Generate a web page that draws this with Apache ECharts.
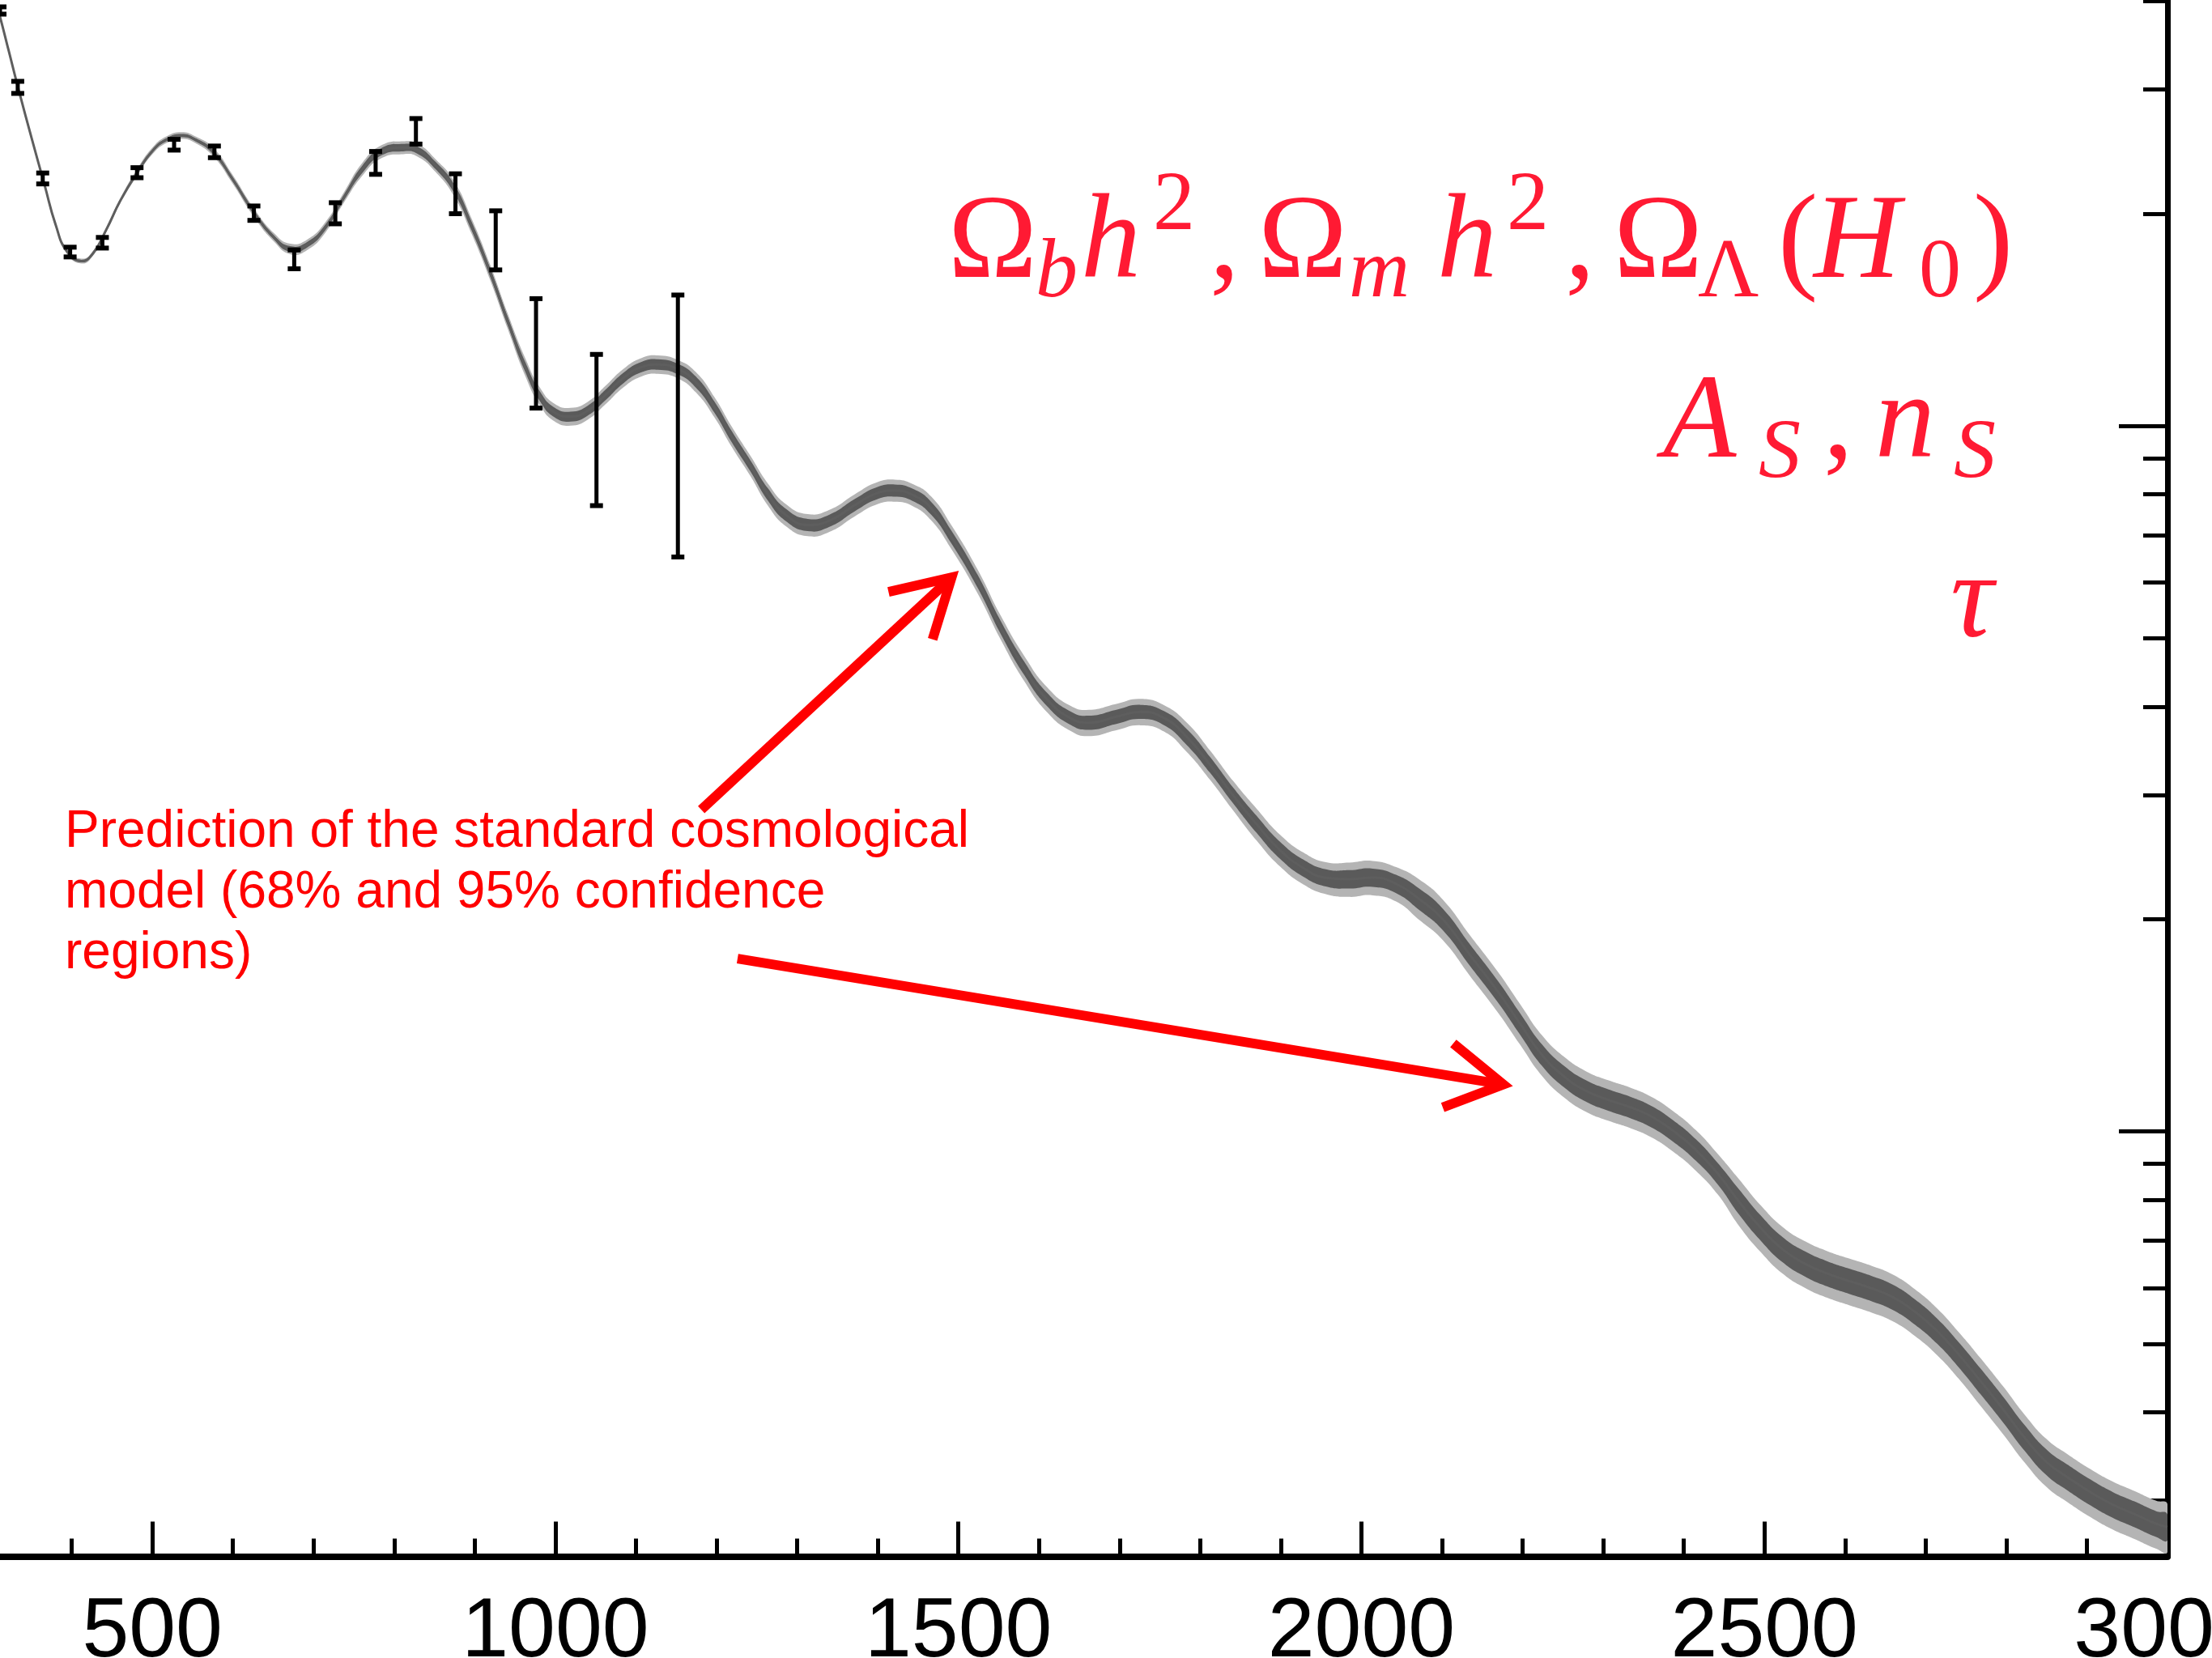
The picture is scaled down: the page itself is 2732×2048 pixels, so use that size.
<!DOCTYPE html>
<html><head><meta charset="utf-8">
<style>html,body{margin:0;padding:0;background:#fff}#c{width:2732px;height:2048px}</style>
<script src="https://cdn.jsdelivr.net/npm/echarts@6/dist/echarts.min.js"></script>
</head><body><div id="c"></div>
<script>
// ---- model curve (multipole l, D_l in uK^2) ----
const ell = [300,311,322,334,351,366,380,394,412,426,
  443,460,481,501,518,536,553,576,599,626,
  651,671,692,715,738,761,784,811,829,851,
  874,896,919,941,963,981,999,1019,1040,1062,
  1085,1107,1127,1152,1174,1197,1219,1242,1264,1286,
  1313,1340,1372,1399,1421,1443,1466,1491,1524,1553,
  1582,1610,1639,1662,1697,1726,1755,1783,1812,1841,
  1870,1899,1928,1956,1985,2014,2043,2072,2101,2135,
  2169,2197,2224,2251,2278,2306,2333,2360,2387,2415,
  2442,2469,2496,2523,2551,2578,2605,2632,2660,2687,
  2714,2741,2768,2796,2823,2850,2877,2905,2932,2959,
  2986,3000];
const dl = [4220,3803,3395,2999,2539,2202,1929,1768,1713,1754,
  1899,2083,2285,2460,2546,2580,2546,2441,2243,2007,
  1850,1782,1806,1914,2111,2315,2447,2480,2460,2342,
  2173,1921,1652,1407,1210,1101,1045,1031,1051,1106,
  1171,1212,1222,1204,1155,1065,965,878,799,748,
  724,734,773,803,810,799,765,697,602,517,
  453,409.7,385.5,379.7,387.4,393.4,385.5,362.8,331.2,299.4,
  272.6,250.5,236.3,228.9,227.8,229.0,224.4,213.4,199.9,177.7,
  158.1,142.1,128.4,119.8,114.3,110.9,108.3,105.0,100.2,94.2,
  87.2,79.4,72.9,68.0,64.9,62.9,61.4,60.0,58.2,55.5,
  52.2,48.3,44.3,40.4,36.8,34.0,32.3,30.8,29.6,28.7,
  27.8,27.5];
// half-widths of the confidence regions, percent of D_l
const err68 = [0.4,0.4,0.4,0.4,0.4,0.4,0.4,0.4,0.4,0.4,
  0.4,0.4,0.5,0.5,0.5,0.5,0.5,0.7,0.7,0.7,
  0.7,0.9,0.9,0.9,0.9,1.2,1.2,1.2,1.2,1.2,
  1.4,1.4,1.4,1.4,1.6,1.6,1.6,1.6,1.6,1.7,
  1.7,1.7,1.7,1.7,1.8,1.8,1.8,1.8,2.0,2.0,
  2.0,2.0,2.0,2.0,2.0,2.0,2.1,2.1,2.1,2.1,
  2.2,2.2,2.2,2.3,2.3,2.3,2.3,2.6,2.6,2.6,
  2.8,2.8,2.8,2.8,3.0,3.0,3.0,3.5,3.5,3.5,
  3.5,3.5,3.5,3.5,3.5,3.5,3.5,3.5,3.5,3.5,
  3.5,4.1,4.1,4.1,4.1,4.1,4.1,4.1,4.1,4.1,
  4.1,4.1,4.2,4.2,4.2,4.2,4.2,4.2,4.2,4.2,
  4.2,4.2];
const err95 = [0.8,0.8,0.8,0.8,0.8,0.8,0.8,0.8,0.8,0.8,
  0.8,0.8,1.1,1.1,1.1,1.1,1.1,1.4,1.4,1.4,
  1.4,1.7,1.7,1.7,1.7,2.1,2.1,2.1,2.1,2.1,
  2.5,2.5,2.5,2.5,2.9,2.9,2.9,2.9,2.9,3.0,
  3.0,3.0,3.0,3.0,3.3,3.3,3.3,3.3,3.6,3.6,
  3.6,3.6,3.6,3.6,3.6,3.6,3.9,3.9,3.9,3.9,
  4.1,4.1,4.1,4.3,4.3,4.3,4.3,4.8,4.8,4.8,
  5.2,5.2,5.2,5.2,5.6,5.6,5.6,6.6,6.6,6.6,
  6.6,6.6,6.6,6.6,6.6,6.6,6.6,6.6,6.6,6.6,
  6.6,7.6,7.6,7.6,7.6,7.6,7.6,7.6,7.6,7.6,
  7.6,7.6,7.8,7.8,7.8,7.8,7.8,7.8,7.8,7.8,
  7.8,7.8];

// ---- measured band powers with error bars ----
const dataEll  = [311,333,364,398,438,481,527,577,626,676,727,777,827,876,926,976,1051,1152];
const dataLow  = [3834,2960,2203,1736,1787,2248,2460,2400,1956,1670,1934,2273,2509,1999,1664,1060,771,652];
const dataHigh = [3926,3079,2283,1792,1850,2323,2548,2493,2050,1776,2072,2449,2727,2277,2018,1515,1263,1533];

// ---- annotation arrows (data coordinates) ----
const arrowFromL = [1181, 1226];
const arrowFromD = [285.8, 175.8];
const arrowToL   = [1499, 2186];
const arrowToD   = [621, 116.1];

// ---- ticks ----
const xLabelTicks = [500, 1000, 1500, 2000, 2500, 3000];
const xMajorTicks = [500, 1000, 1500, 2000, 2500];
const xMinorTicks = [400,600,700,800,900,1100,1200,1300,1400,1600,1700,1800,1900,
  2100,2200,2300,2400,2600,2700,2800,2900];
const yMajorTicks = [100, 1000];
const yMinorTicks = [30,40,50,60,70,80,90,200,300,400,500,600,700,800,900,2000,3000,4000];

const chart = echarts.init(document.getElementById('c'), null, {renderer: 'canvas', width: 2732, height: 2048});

function bandItem(params, api) {
  const u95 = [], l95 = [], u68 = [], l68 = [];
  for (let i = 0; i < ell.length; i++) {
    u95.push(api.coord([ell[i], dl[i] * (1 + err95[i] / 100)]));
    l95.push(api.coord([ell[i], dl[i] * (1 - err95[i] / 100)]));
    u68.push(api.coord([ell[i], dl[i] * (1 + err68[i] / 100)]));
    l68.push(api.coord([ell[i], dl[i] * (1 - err68[i] / 100)]));
  }
  const cs = params.coordSys;
  return {
    type: 'group',
    clipPath: {type: 'rect', shape: {x: cs.x, y: cs.y, width: cs.width, height: cs.height}},
    children: [
      {type: 'polygon', shape: {points: u95.concat(l95.reverse()), smooth: 0.5}, style: {fill: '#b4b4b4'}},
      {type: 'polygon', shape: {points: u68.concat(l68.reverse()), smooth: 0.5}, style: {fill: '#5a5a5a'}}
    ]
  };
}

function errItem(params, api) {
  const x = api.value(0);
  const pHi = api.coord([x, api.value(2)]);
  const pLo = api.coord([x, api.value(1)]);
  const hw = 8;
  const st = {stroke: '#000', lineWidth: 5};
  const cap = {stroke: '#000', lineWidth: 6};
  return {type: 'group', children: [
    {type: 'line', shape: {x1: pHi[0], y1: pHi[1], x2: pLo[0], y2: pLo[1]}, style: st},
    {type: 'line', shape: {x1: pHi[0] - hw, y1: pHi[1], x2: pHi[0] + hw, y2: pHi[1]}, style: cap},
    {type: 'line', shape: {x1: pLo[0] - hw, y1: pLo[1], x2: pLo[0] + hw, y2: pLo[1]}, style: cap}
  ]};
}

function arrowItem(params, api) {
  const p1 = api.coord([api.value(0), api.value(1)]);
  const p2 = api.coord([api.value(2), api.value(3)]);
  const dx = p2[0] - p1[0], dy = p2[1] - p1[1];
  const L = Math.hypot(dx, dy), ux = dx / L, uy = dy / L;
  const v = [p2[0] - ux * 10, p2[1] - uy * 10];
  const hl = 80, a = Math.PI / 6, c = Math.cos(a), s = Math.sin(a);
  const bx = -ux, by = -uy;
  const a1 = [v[0] + hl * (c * bx - s * by), v[1] + hl * (s * bx + c * by)];
  const a2 = [v[0] + hl * (c * bx + s * by), v[1] + hl * (-s * bx + c * by)];
  const st = {stroke: '#ff0000', lineWidth: 12, lineJoin: 'miter', lineCap: 'butt', fill: null};
  return {type: 'group', children: [
    {type: 'line', shape: {x1: p1[0], y1: p1[1], x2: v[0], y2: v[1]}, style: st},
    {type: 'polyline', shape: {points: [a1, v, a2]}, style: st}
  ]};
}

function glyph(t, x, bl, fs, italic) {
  return {
    type: 'text', z: 100, x: x, y: bl - 0.3375 * fs,
    style: {
      text: t,
      font: (italic ? 'italic ' : '') + fs + 'px "Liberation Serif"',
      fill: '#ff1a33',
      align: 'left', verticalAlign: 'middle',
      textAlign: 'left', textVerticalAlign: 'middle'
    }
  };
}
function note(t, x, bl) {
  return {
    type: 'text', z: 100, x: x, y: bl - 0.3465 * 64,
    style: {
      text: t, font: '64px "Liberation Sans"', fill: '#ff0000',
      align: 'left', verticalAlign: 'middle', textAlign: 'left', textVerticalAlign: 'middle'
    }
  };
}

const M = 148, S = 104;
const b1 = 352.6, sub1 = 374, sup1 = 290.4;
const b2 = 575.2, sub2 = 596.7;
const formula = [
  glyph('\u03A9', 1171, b1, M, false),
  glyph('b', 1279, sub1, S, true),
  glyph('h', 1335, b1, M, true),
  glyph('2', 1424, sup1, S, false),
  glyph(',', 1494, b1, M, false),
  glyph('\u03A9', 1554, b1, M, false),
  glyph('m', 1666, sub1, S, true),
  glyph('h', 1775, b1, M, true),
  glyph('2', 1861, sup1, S, false),
  glyph(',', 1933, b1, M, false),
  glyph('\u03A9', 1993, b1, M, false),
  glyph('\u039B', 2097, sub1, S, false),
  glyph('(', 2196, b1, M, false),
  glyph('H', 2240, b1, M, true),
  glyph('0', 2370, sub1, S, false),
  glyph(')', 2437, b1, M, false),
  glyph('A', 2054, b2, M, true),
  glyph('S', 2172, sub2, S, true),
  glyph(',', 2252, b2, M, false),
  glyph('n', 2316, b2, M, true),
  glyph('S', 2413, sub2, S, true),
  glyph('\u03C4', 2409, 797, M, true),
  note('Prediction of the standard cosmological', 80, 1050.7),
  note('model (68% and 95% confidence', 80, 1125.7),
  note('regions)', 80, 1200.5)
];

const xAxisBase = {
  type: 'value', min: 311, max: 3000, position: 'bottom', gridIndex: 0,
  splitLine: {show: false}
};

const option = {
  animation: false,
  backgroundColor: '#ffffff',
  grid: {left: 0, right: 55, top: 0, bottom: 125.6, containLabel: false, outerBoundsMode: 'none'},
  xAxis: [
    Object.assign({}, xAxisBase, {
      axisLine: {show: true, onZero: false, lineStyle: {color: '#000', width: 8}},
      axisTick: {show: true, inside: true, length: 22, customValues: xMinorTicks, lineStyle: {color: '#000', width: 5}},
      axisLabel: {show: true, customValues: xLabelTicks, margin: 43, color: '#000', fontSize: 104,
        fontFamily: '"Liberation Sans", Arial, sans-serif', hideOverlap: false,
        formatter: function (v) { return String(v); }}
    }),
    Object.assign({}, xAxisBase, {
      axisLine: {show: false, onZero: false},
      axisTick: {show: true, inside: true, length: 43, customValues: xMajorTicks, lineStyle: {color: '#000', width: 5}},
      axisLabel: {show: false}
    })
  ],
  yAxis: [
    {
      type: 'log', logBase: 10, min: 25, max: 4015, position: 'right',
      axisLine: {show: true, onZero: false, lineStyle: {color: '#000', width: 7}},
      axisTick: {show: true, inside: true, length: 60, customValues: yMajorTicks, lineStyle: {color: '#000', width: 5}},
      axisLabel: {show: false}, splitLine: {show: false}
    },
    {
      type: 'log', logBase: 10, min: 25, max: 4015, position: 'right',
      axisLine: {show: false, onZero: false},
      axisTick: {show: true, inside: true, length: 30, customValues: yMinorTicks, lineStyle: {color: '#000', width: 5}},
      axisLabel: {show: false}, splitLine: {show: false}
    }
  ],
  series: [
    {type: 'custom', name: 'bands', renderItem: bandItem, data: [[1000, 1000]], xAxisIndex: 0, yAxisIndex: 0, z: 1, silent: true},
    {type: 'line', name: 'model', data: ell.map(function (l, i) { return [l, dl[i]]; }), xAxisIndex: 0, yAxisIndex: 0,
      showSymbol: false, symbol: 'none', smooth: 0.5, clip: true, z: 2,
      lineStyle: {color: '#5e5e5e', width: 3}},
    {type: 'custom', name: 'data', renderItem: errItem, xAxisIndex: 0, yAxisIndex: 0, z: 3,
      encode: {x: 0, y: [1, 2]},
      data: dataEll.map(function (l, i) { return [l, dataLow[i], dataHigh[i]]; })},
    {type: 'custom', name: 'arrows', renderItem: arrowItem, xAxisIndex: 0, yAxisIndex: 0, z: 4,
      encode: {x: [0, 2], y: [1, 3]},
      data: arrowFromL.map(function (l, i) { return [l, arrowFromD[i], arrowToL[i], arrowToD[i]]; })}
  ],
  graphic: {elements: formula}
};
chart.setOption(option);
</script>
</body></html>
